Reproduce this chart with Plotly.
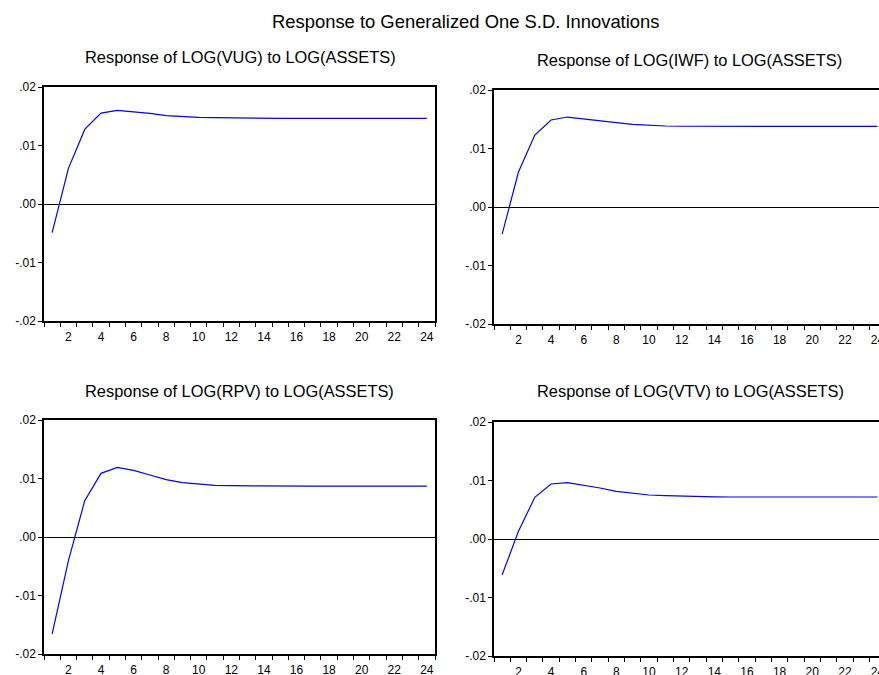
import plotly.graph_objects as go

periods = list(range(1, 25))

vug = [-0.0049, 0.0061, 0.01275, 0.01553, 0.0160, 0.0158, 0.01548, 0.0151, 0.0149, 0.0148,
       0.01475, 0.01470, 0.01468, 0.01466, 0.01465, 0.01465, 0.01465, 0.01465, 0.01465, 0.01465,
       0.01465, 0.01465, 0.01465, 0.01465]
iwf = [-0.00462, 0.00598, 0.0123, 0.01487, 0.01538, 0.0151, 0.01476, 0.01442, 0.01413, 0.01396,
       0.01385, 0.01380, 0.01379, 0.01379, 0.01379, 0.01379, 0.01379, 0.01379, 0.01379, 0.01379,
       0.01379, 0.01379, 0.01379, 0.01379]
rpv = [-0.01658, -0.00405, 0.00621, 0.01088, 0.01191, 0.0114, 0.0106, 0.0098, 0.00929, 0.0090,
       0.00883, 0.00877, 0.00873, 0.00872, 0.00871, 0.00870, 0.00868, 0.00869, 0.00870, 0.00870,
       0.00870, 0.00870, 0.00870, 0.00870]
vtv = [-0.0061, 0.00131, 0.00712, 0.0094, 0.00963, 0.00923, 0.00872, 0.00815, 0.0078, 0.00752,
       0.0074, 0.00729, 0.00724, 0.00720, 0.00718, 0.00718, 0.00718, 0.00718, 0.00718, 0.00718,
       0.00718, 0.00718, 0.00718, 0.00718]

series = [vug, iwf, rpv, vtv]
titles = ["Response of LOG(VUG) to LOG(ASSETS)", "Response of LOG(IWF) to LOG(ASSETS)",
          "Response of LOG(RPV) to LOG(ASSETS)", "Response of LOG(VTV) to LOG(ASSETS)"]
main_title = "Response to Generalized One S.D. Innovations"

y_ticks = [-0.02, -0.01, 0.0, 0.01, 0.02]
y_ticktext = ["-.02", "-.01", ".00", ".01", ".02"]
x_ticks = list(range(2, 25, 2))
x_ticktext = [str(v) for v in x_ticks]
x_minor = [i + 0.5 for i in range(0, 25)]

W, H = 879, 675
# panel pixel boxes: left, top, right, bottom
boxes = [(44, 87, 435, 321), (494, 90, 879, 324), (44, 420, 435, 654), (494, 422, 879, 656)]
xranges = [[0.5, 24.5], [0.5, 24.09], [0.5, 24.5], [0.5, 24.09]]
title_pos = [(240, 56.7), (689.5, 59.7), (239.5, 391), (690, 391.3)]

FONT = "Liberation Sans, Arial, sans-serif"

fig = go.Figure()
layout = dict(
    width=W, height=H,
    margin=dict(l=0, r=0, t=0, b=0, pad=0, autoexpand=False),
    paper_bgcolor="white", plot_bgcolor="white",
    showlegend=False,
    font=dict(family=FONT, size=12, color="black"),
)
annotations = []
for i, (vals, box) in enumerate(zip(series, boxes)):
    n = i + 1
    xa = "x" if n == 1 else f"x{n}"
    ya = "y" if n == 1 else f"y{n}"
    fig.add_trace(go.Scatter(x=periods, y=vals, mode="lines", xaxis=xa, yaxis=ya,
                             line=dict(color="#0000FF", width=1.2), hoverinfo="skip"))
    l, t, r, b = box
    xk = "xaxis" if n == 1 else f"xaxis{n}"
    yk = "yaxis" if n == 1 else f"yaxis{n}"
    layout[xk] = dict(
        domain=[l / W, r / W], anchor=ya, range=xranges[i],
        tickmode="array", tickvals=x_ticks, ticktext=x_ticktext,
        ticks="outside", ticklen=4, tickcolor="rgba(0,0,0,0)",
        minor=dict(tickmode="array", tickvals=x_minor, ticks="outside", ticklen=4,
                   tickcolor="black", tickwidth=1, showgrid=False),
        showline=True, linecolor="black", linewidth=1.5, mirror=True,
        showgrid=False, zeroline=False, tickfont=dict(size=12, family=FONT),
        ticklabeloverflow="allow", automargin=False,
    )
    layout[yk] = dict(
        domain=[1 - b / H, 1 - t / H], anchor=xa, range=[-0.02, 0.02],
        tickmode="array", tickvals=y_ticks, ticktext=y_ticktext,
        ticks="outside", ticklen=4, tickcolor="black",
        showline=True, linecolor="black", linewidth=1.5, mirror=(i % 2 == 0),
        showgrid=False, zeroline=True, zerolinecolor="black", zerolinewidth=1,
        tickfont=dict(size=12, family=FONT), automargin=False,
    )
    cx, cy = title_pos[i]
    annotations.append(dict(text=titles[i], x=cx / W, y=1 - cy / H, xref="paper", yref="paper",
                            xanchor="center", yanchor="middle", showarrow=False,
                            font=dict(size=16.4, family=FONT, color="black")))

annotations.append(dict(text=main_title, x=465 / W, y=1 - 21.3 / H, xref="paper", yref="paper",
                        xanchor="center", yanchor="middle", showarrow=False,
                        font=dict(size=18.4, family=FONT, color="black")))
layout["annotations"] = annotations
fig.update_layout(**layout)
fig.write_html("out.html", config={"displayModeBar": False},
               post_script="document.body.style.margin='0';document.body.style.overflow='hidden';")
